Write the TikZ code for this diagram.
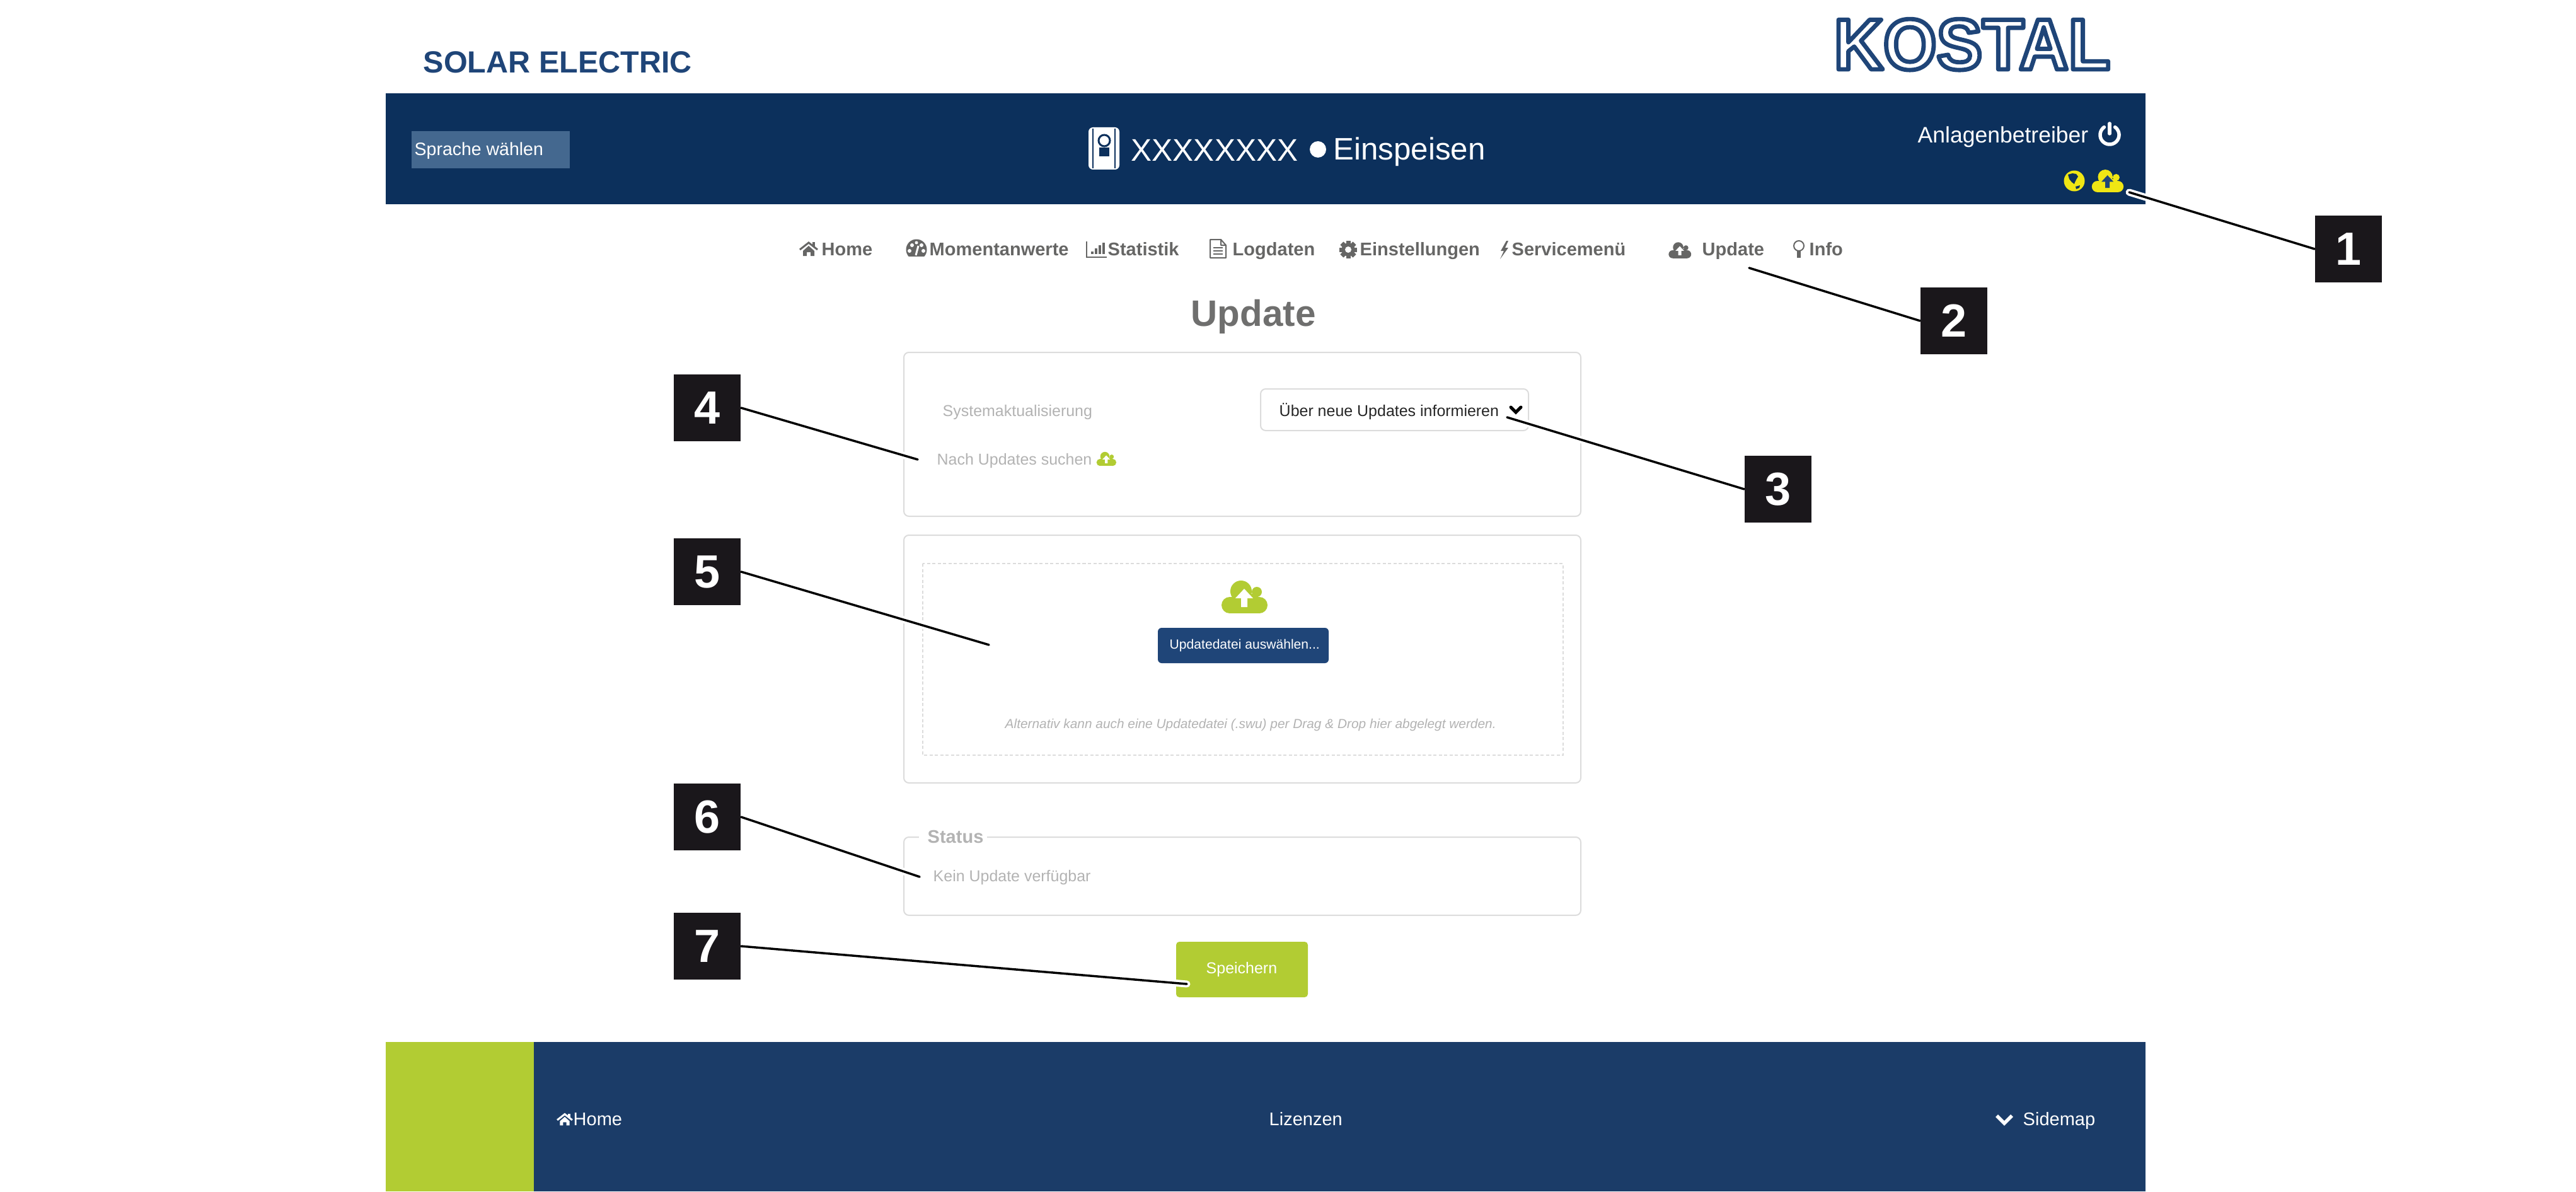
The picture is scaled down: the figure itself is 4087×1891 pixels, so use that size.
\documentclass[tikz,border=0pt]{standalone}
\usepackage{fontspec}
\setmainfont{Liberation Sans}
\newfontfamily\logofont[FakeStretch=0.95,FakeBold=6]{Liberation Sans Bold}
\definecolor{navyA}{HTML}{0C305C}
\definecolor{navyB}{HTML}{1B3C68}
\definecolor{blueC}{HTML}{1F4578}
\definecolor{selbox}{HTML}{44688F}
\definecolor{lime}{HTML}{B2CC33}
\definecolor{sun}{HTML}{F0E614}
\definecolor{navtext}{HTML}{666665}
\definecolor{titletext}{HTML}{6F6F6E}
\definecolor{mute}{HTML}{B3B3B3}
\definecolor{edge}{HTML}{DCDCDC}
\definecolor{boxblack}{HTML}{1A171B}
\pgfdeclarelayer{front}
\pgfsetlayers{main,front}
\newcommand{\fsz}[1]{\fontsize{#1}{#1}\selectfont}
\tikzset{
  txt/.style={inner sep=0pt,anchor=base west,text=white},
  navlab/.style={txt,text=navtext,font=\fsz{8.25}\bfseries},
  mutelab/.style={txt,text=mute,font=\fsz{7.1}},
  foot/.style={txt,font=\fsz{8.25}},
  numbox/.style={fill=boxblack,text=white,minimum width=1.06cm,minimum height=1.06cm,inner sep=0pt,font=\fsz{21}\bfseries},
  panel/.style={draw=edge,line width=0.02cm,rounded corners=0.08cm,fill=white},
  halo/.style={white,line width=0.11cm,line cap=round},
  lead/.style={black,line width=0.035cm,line cap=round},
  pics/cloudup/.style 2 args={code={
    \fill[#1] (-25,13) circle[radius=13];
    \fill[#1] (-7,-9) circle[radius=17];
    \fill[#1] (18,-8) circle[radius=8];
    \fill[#1] (22,13) circle[radius=13];
    \fill[#1] (-25,0) rectangle (22,26);
    \fill[#1] (-20,-5) rectangle (20,10);
    \fill[#2] (-2,-13) -- (12,2) -- (3,2) -- (3,16) -- (-7,16) -- (-7,2) -- (-16,2) -- cycle;
  }},
  pics/homeicon/.style={code={
    \draw[#1,line width=0.03cm] (-14,1) -- (0,-10) -- (14,1);
    \fill[#1] (6,-11) rectangle (10,-3);
    \fill[#1] (-9,3) -- (0,-5) -- (9,3) -- (9,11) -- (3,11) -- (3,5) -- (-3,5) -- (-3,11) -- (-9,11) -- cycle;
  }},
}
\begin{document}
\begin{tikzpicture}[x=0.01cm,y=-0.01cm]
\useasboundingbox (0,0) rectangle (4087,1891);
% bands
\fill[navyA] (612,148) rectangle (3404,324);
\fill[selbox] (653,208) rectangle (904,267);
\fill[navyB] (847,1653) rectangle (3404,1890);
\fill[lime] (612,1653) rectangle (847,1890);
% panels
\draw[panel] (1434,559) rectangle (2508,819);
\draw[panel] (2000,617) rectangle (2425,683);
\draw[panel] (1434,849) rectangle (2508,1242);
\draw[edge,line width=0.012cm,dash pattern=on 0.05cm off 0.035cm] (1464,894) rectangle (2480,1198);
\draw[panel] (1434,1328) rectangle (2508,1452);
\fill[white] (1458,1318) rectangle (1566,1338);
\fill[blueC,rounded corners=0.06cm] (1837,996) rectangle (2108,1052);
\fill[lime,rounded corners=0.05cm] (1866,1494) rectangle (2075,1582);
% device icon
\fill[white,rounded corners=0.07cm] (1727,202) rectangle (1776,269);
\draw[navyA,line width=0.012cm] (1734,204) -- (1734,267) (1769,204) -- (1769,267);
\draw[navyA,line width=0.03cm] (1752,223) circle[radius=9];
\fill[navyA] (1744,234) rectangle (1760,248);
\fill[white] (2091,237) circle[radius=13];
% power
\draw[white,line width=0.055cm,line cap=round] plot[domain=-55:235,samples=40] ({3347+15*cos(\x)},{214+15*sin(\x)});
\draw[white,line width=0.055cm,line cap=round] (3347,196) -- (3347,212);
% globe and header cloud
\fill[sun] (3291,287) circle[radius=16.5];
\fill[navyA] (3281,277) -- (3288,275) -- (3294,276) -- (3297,280) -- (3294,285) -- (3292,289) -- (3291,292) -- (3287,289) -- (3283,284) -- cycle;
\fill[navyA] (3293,296) -- (3300,294) -- (3299,298) -- (3294,300) -- cycle;
\pic[scale=0.69] at (3345,287) {cloudup={sun}{blueC}};
% nav icons
\pic[scale=1] at (1283,395) {homeicon=navtext};
\begin{scope}[shift={(1454,396)}]
  \fill[navtext] (0,0) circle[radius=16.5];
  \fill[white] (-18,11) rectangle (18,18);
  \fill[white] (-11,2) circle[radius=3];
  \fill[white] (-7,-7) circle[radius=3];
  \fill[white] (0,-11) circle[radius=2.5];
  \fill[white] (8,-7) circle[radius=3];
  \fill[white] (11,2) circle[radius=3];
  \draw[white,line width=0.03cm] (-1,9) -- (3,-6);
\end{scope}
\draw[navtext,line width=0.025cm] (1724,383) -- (1724,408) -- (1756,408);
\foreach \bx/\by in {1731/399,1737/394,1743/389,1749/385}
  \fill[navtext] (\bx,\by) rectangle ++(4,{403-\by});
\draw[navtext,line width=0.02cm,line join=round] (1920,380) -- (1937,380) -- (1945,389) -- (1945,409) -- (1920,409) -- cycle (1937,380) -- (1937,389) -- (1945,389);
\draw[navtext,line width=0.02cm] (1925,393) -- (1940,393) (1925,398) -- (1940,398) (1925,403) -- (1940,403);
\begin{scope}[shift={(2139,396)}]
  \foreach \a in {0,45,...,315} \fill[navtext,rotate=\a] (-3.5,-14) rectangle (3.5,14);
  \fill[navtext] (0,0) circle[radius=10.5];
  \fill[white] (0,0) circle[radius=5];
\end{scope}
\fill[navtext] (2390,382) -- (2381,398) -- (2386,398) -- (2380,411) -- (2393,393) -- (2388,393) -- (2393,382) -- cycle;
\pic[scale=0.49] at (2666,397) {cloudup={navtext}{white}};
\draw[navtext,line width=0.02cm] (2854,390) circle[radius=8];
\fill[navtext] (2851,398) rectangle (2857,409);
% other icons
\pic[scale=0.43] at (1756,728) {cloudup={lime}{white}};
\pic[scale=1] at (1976,947) {cloudup={lime}{white}};
\draw[black,line width=0.05cm,line cap=round,line join=miter] (2397,646) -- (2405,654) -- (2413,646);
\pic[scale=0.85] at (896,1776) {homeicon=white};
\draw[white,line width=0.055cm,line join=miter] (3168,1770) -- (3180,1782) -- (3192,1770);
% text and number boxes
\begin{pgfonlayer}{front}
\node[txt,text=blueC,font=\fsz{13.8}\bfseries] (brand) at (671,116) {SOLAR ELECTRIC};
\node[inner sep=0pt,anchor=base west,text=blueC,font=\fsz{32.5}\logofont] (logo) at (2909,110) {\special{pdf:code 1 1 1 rg 1 j}KOSTAL};
\node[txt,font=\fsz{8.1}] (lang) at (657,247) {Sprache wählen};
\node[txt,font=\fsz{14.1}] (dev) at (1794,255) {XXXXXXXX};
\node[txt,font=\fsz{14}] (mode) at (2115,254) {Einspeisen};
\node[txt,font=\fsz{10.1}] (user) at (3042,227) {Anlagenbetreiber};
\node[navlab] (nhome) at (1303,405) {Home};
\node[navlab] (nmom) at (1474,405) {Momentanwerte};
\node[navlab] (nstat) at (1757,405) {Statistik};
\node[navlab] (nlog) at (1955,405) {Logdaten};
\node[navlab] (nset) at (2157,405) {Einstellungen};
\node[navlab] (nserv) at (2398,405) {Servicemenü};
\node[navlab] (nupd) at (2700,405) {Update};
\node[navlab] (ninfo) at (2870,405) {Info};
\node[txt,text=titletext,font=\fsz{16.6}\bfseries] (title) at (1889,517) {Update};
\node[mutelab] (sys) at (1495,660) {Systemaktualisierung};
\node[mutelab] (search) at (1486,737) {Nach Updates suchen};
\node[txt,text=black!85,font=\fsz{7.1}] (sel) at (2029,660) {Über neue Updates informieren};
\node[txt,font=\fsz{6}] (pick) at (1855,1029) {Updatedatei auswählen...};
\node[txt,text=mute,font=\fsz{5.93}\itshape] (alt) at (1594,1155) {Alternativ kann auch eine Updatedatei (.swu) per Drag \& Drop hier abgelegt werden.};
\node[txt,text=mute,font=\fsz{8.25}\bfseries] (stat) at (1471,1337) {Status};
\node[txt,text=mute,font=\fsz{7.1}] (none) at (1480,1398) {Kein Update verfügbar};
\node[txt,font=\fsz{7.1}] (save) at (1913,1544) {Speichern};
\node[foot] (fhome) at (909,1785) {Home};
\node[foot] (flic) at (2013,1785) {Lizenzen};
\node[foot] (fmap) at (3209,1785) {Sidemap};
\node[numbox] (n1) at (3726,395) {1};
\node[numbox] (n2) at (3100,509) {2};
\node[numbox] (n3) at (2821,776) {3};
\node[numbox] (n4) at (1122,647) {4};
\node[numbox] (n5) at (1122,907) {5};
\node[numbox] (n6) at (1122,1296) {6};
\node[numbox] (n7) at (1122,1501) {7};
\end{pgfonlayer}
% leaders
\coordinate (t1) at (3378,305);
\coordinate (t2) at (2775,425);
\coordinate (t3) at (2391,662);
\coordinate (t4) at (1456,729);
\coordinate (t5) at (1569,1023);
\coordinate (t6) at (1459,1391);
\coordinate (t7) at (1883,1561);
\foreach \i/\s in {1/west,2/west,3/west,4/east,5/east,6/east,7/east} \draw[halo] (n\i.\s) -- (t\i);
\foreach \i/\s in {1/west,2/west,3/west,4/east,5/east,6/east,7/east} \draw[lead] (n\i.\s) -- (t\i);
\end{tikzpicture}
\end{document}
